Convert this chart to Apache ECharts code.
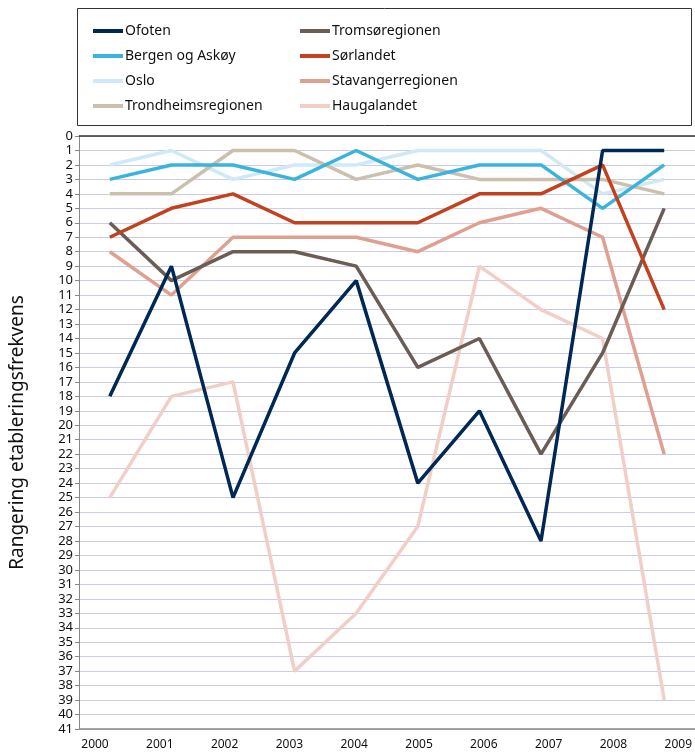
<!DOCTYPE html>
<html>
<head>
<meta charset="utf-8">
<script src="https://cdn.jsdelivr.net/npm/echarts@6/dist/echarts.min.js"></script>
<style>html,body{margin:0;padding:0;background:#fff}#c{width:695px;height:756px}</style>
</head>
<body>
<div id="c"></div>
<script>
const years = ['2000','2001','2002','2003','2004','2005','2006','2007','2008','2009'];
const ofoten = [18, 9, 25, 15, 10, 24, 19, 28, 1, 1];
const tromso = [6, 10, 8, 8, 9, 16, 14, 22, 15, 5];
const bergen = [3, 2, 2, 3, 1, 3, 2, 2, 5, 2];
const sorlandet = [7, 5, 4, 6, 6, 6, 4, 4, 2, 12];
const oslo = [2, 1, 3, 2, 2, 1, 1, 1, 4, 3];
const stavanger = [8, 11, 7, 7, 7, 8, 6, 5, 7, 22];
const trondheim = [4, 4, 1, 1, 3, 2, 3, 3, 3, 4];
const haugalandet = [25, 18, 17, 37, 33, 27, 9, 12, 14, 39];

const seriesDefs = [
  {name: 'Ofoten', data: ofoten, color: '#002855'},
  {name: 'Tromsøregionen', data: tromso, color: '#6b5c54'},
  {name: 'Bergen og Askøy', data: bergen, color: '#3ab4dd'},
  {name: 'Sørlandet', data: sorlandet, color: '#c2411f'},
  {name: 'Oslo', data: oslo, color: '#cfe9f6'},
  {name: 'Stavangerregionen', data: stavanger, color: '#dfa08f'},
  {name: 'Trondheimsregionen', data: trondheim, color: '#cbbfad'},
  {name: 'Haugalandet', data: haugalandet, color: '#f1cfc6'}
];
const drawOrder = ['Haugalandet','Oslo','Trondheimsregionen','Stavangerregionen','Bergen og Askøy','Tromsøregionen','Sørlandet','Ofoten'];

const chart = echarts.init(document.getElementById('c'));
const font = 'Noto Sans';
const col1 = ['Ofoten','Bergen og Askøy','Oslo','Trondheimsregionen'];
const col2 = ['Tromsøregionen','Sørlandet','Stavangerregionen','Haugalandet'];
const legendCommon = {
  orient: 'vertical', itemWidth: 30, itemHeight: 4, itemGap: 11,
  icon: 'rect',
  textStyle: {fontFamily: font, fontSize: 14, color: '#111', padding: [0,0,0,-3]}
};
chart.setOption({
  animation: false,
  graphic: [{type: 'rect', shape: {x: 77.5, y: 8.5, width: 614, height: 117}, style: {fill: 'none', stroke: '#333', lineWidth: 1}}],
  legend: [
    Object.assign({left: 88, top: 19, data: col1}, legendCommon),
    Object.assign({left: 295, top: 19, data: col2}, legendCommon)
  ],
  grid: [
    {left: 77, right: 0, top: 136, bottom: 27},
    {left: 95, right: 16, top: 136, bottom: 27}
  ],
  xAxis: [
    {type: 'category', gridIndex: 0, data: years, boundaryGap: true, position: 'bottom',
     axisLine: {show: false}, axisTick: {show: false}, axisLabel: {show: false}, splitLine: {show: false}},
    {type: 'category', gridIndex: 1, data: years, boundaryGap: false, position: 'bottom',
     axisLine: {show: false}, axisTick: {show: false},
     axisLabel: {show: true, margin: 10, fontFamily: font, fontSize: 12, color: '#111', interval: 0}, splitLine: {show: false}}
  ],
  yAxis: [
    {type: 'value', gridIndex: 0, min: 0, max: 41, interval: 1, inverse: true,
     name: 'Rangering etableringsfrekvens', nameLocation: 'middle', nameGap: 52, nameRotate: 90,
     nameTextStyle: {fontFamily: font, fontSize: 19, color: '#111'},
     axisLine: {show: true, lineStyle: {color: '#888', width: 1}},
     axisTick: {show: true, length: 4, lineStyle: {color: '#888'}},
     axisLabel: {fontFamily: font, fontSize: 13, color: '#111', margin: 6},
     splitLine: {show: true, lineStyle: {color: '#cdcbe6', width: 1}}},
    {type: 'value', gridIndex: 1, min: 0, max: 41, inverse: true, show: false}
  ],
  series: drawOrder.map(n => {
    const d = seriesDefs.find(s => s.name === n);
    return {name: d.name, type: 'line', data: d.data, xAxisIndex: 0, yAxisIndex: 0,
      symbol: 'none', lineStyle: {color: d.color, width: 3.5}, itemStyle: {color: d.color},
      markLine: n === 'Haugalandet' ? {silent: true, symbol: 'none', label: {show: false},
        data: [{yAxis: 0, lineStyle: {color: '#333', width: 1.5, type: 'solid'}},
               {yAxis: 41, lineStyle: {color: '#888', width: 1.5, type: 'solid'}}]} : undefined
    };
  })
});
</script>
</body>
</html>
